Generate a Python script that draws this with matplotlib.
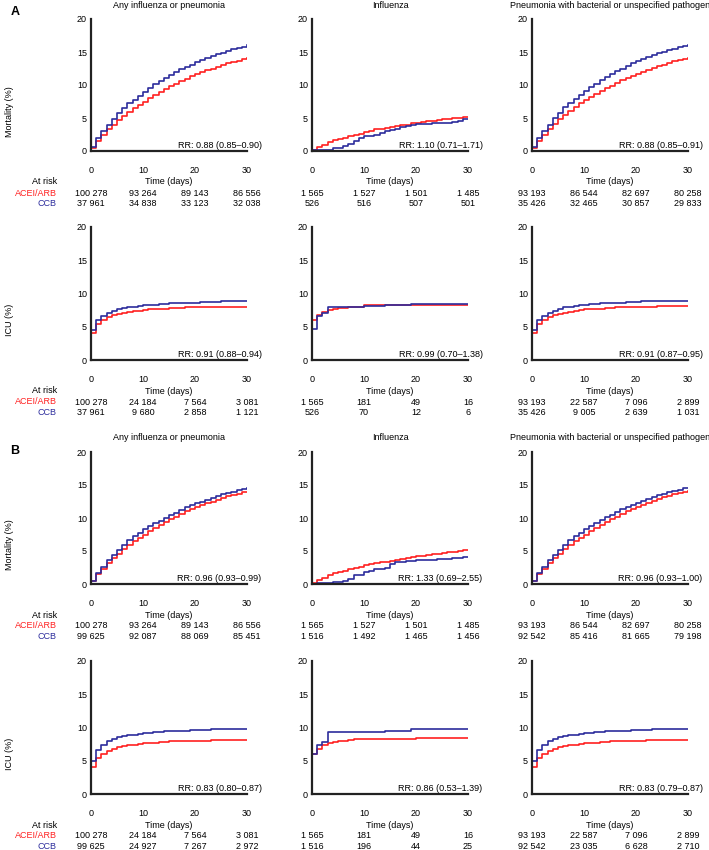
import numpy as np
import matplotlib
matplotlib.use('Agg')
import matplotlib.pyplot as plt

plt.rcParams['font.family'] = ['Liberation Sans', 'DejaVu Sans']

RED = '#ff2020'
BLUE = '#2c2c9c'

days = np.arange(31)

titles = ['Any influenza or pneumonia', 'Influenza',
          'Pneumonia with bacterial or unspecified pathogen']

# ---- A: mortality ----
a_mort_red = [
    [0.5, 1.5, 2.5, 3.3, 4.0, 4.7, 5.3, 5.9, 6.5, 7.0, 7.5, 8.0, 8.5, 8.9, 9.4, 9.8,
     10.2, 10.6, 10.9, 11.3, 11.6, 11.9, 12.2, 12.5, 12.8, 13.0, 13.3, 13.5, 13.7, 13.9, 14.1],
    [0.2, 0.6, 0.9, 1.3, 1.7, 1.8, 2.0, 2.2, 2.5, 2.6, 2.9, 3.1, 3.3, 3.4, 3.5, 3.6,
     3.8, 3.9, 4.0, 4.2, 4.3, 4.4, 4.5, 4.6, 4.7, 4.8, 4.9, 5.0, 5.0, 5.1, 5.2],
    [0.5, 1.5, 2.5, 3.3, 4.1, 4.8, 5.4, 6.0, 6.6, 7.2, 7.7, 8.2, 8.7, 9.1, 9.5, 9.9,
     10.3, 10.7, 11.0, 11.4, 11.7, 12.0, 12.3, 12.6, 12.9, 13.1, 13.4, 13.6, 13.8, 14.0, 14.1],
]
a_mort_blue = [
    [0.6, 2.0, 3.0, 4.0, 4.9, 5.8, 6.5, 7.2, 7.8, 8.4, 9.0, 9.6, 10.1, 10.6, 11.1, 11.5,
     12.0, 12.4, 12.8, 13.1, 13.5, 13.8, 14.1, 14.4, 14.7, 14.9, 15.2, 15.4, 15.6, 15.8, 16.0],
    [0.1, 0.1, 0.1, 0.2, 0.4, 0.5, 0.7, 1.1, 1.5, 1.9, 2.2, 2.3, 2.5, 2.7, 3.0, 3.2,
     3.4, 3.6, 3.8, 3.9, 4.1, 4.1, 4.1, 4.2, 4.2, 4.2, 4.3, 4.4, 4.6, 4.8, 4.9],
    [0.6, 2.0, 3.0, 4.0, 5.0, 5.8, 6.6, 7.3, 7.9, 8.5, 9.1, 9.7, 10.2, 10.7, 11.2, 11.6,
     12.1, 12.5, 12.9, 13.3, 13.6, 13.9, 14.2, 14.5, 14.8, 15.0, 15.3, 15.5, 15.7, 15.9, 16.1],
]

# ---- A: ICU ----
a_icu_red = [
    [4.1, 5.4, 6.0, 6.4, 6.7, 6.9, 7.1, 7.2, 7.3, 7.4, 7.5, 7.6, 7.6, 7.7, 7.7, 7.8,
     7.8, 7.8, 7.9, 7.9, 7.9, 7.9, 8.0, 8.0, 8.0, 8.0, 8.0, 8.0, 8.0, 8.0, 8.0],
    [6.0, 6.8, 7.2, 7.5, 7.7, 7.8, 7.8, 7.9, 8.0, 8.0, 8.2, 8.2, 8.2, 8.2, 8.2, 8.2,
     8.3, 8.3, 8.3, 8.3, 8.3, 8.3, 8.3, 8.3, 8.3, 8.3, 8.3, 8.3, 8.3, 8.3, 8.3],
    [4.1, 5.4, 6.0, 6.4, 6.7, 6.9, 7.1, 7.2, 7.4, 7.5, 7.6, 7.6, 7.7, 7.7, 7.8, 7.8,
     7.9, 7.9, 7.9, 8.0, 8.0, 8.0, 8.0, 8.0, 8.1, 8.1, 8.1, 8.1, 8.1, 8.1, 8.1],
]
a_icu_blue = [
    [4.5, 6.0, 6.6, 7.1, 7.4, 7.6, 7.8, 7.9, 8.0, 8.1, 8.2, 8.3, 8.3, 8.4, 8.4, 8.5,
     8.5, 8.5, 8.6, 8.6, 8.6, 8.7, 8.7, 8.7, 8.7, 8.8, 8.8, 8.8, 8.8, 8.8, 8.8],
    [4.6, 6.6, 7.1, 7.9, 7.9, 7.9, 7.9, 8.0, 8.0, 8.0, 8.1, 8.1, 8.1, 8.1, 8.2, 8.2,
     8.2, 8.2, 8.2, 8.4, 8.4, 8.4, 8.4, 8.4, 8.4, 8.4, 8.4, 8.4, 8.4, 8.4, 8.4],
    [4.5, 6.0, 6.6, 7.1, 7.4, 7.7, 7.9, 8.0, 8.1, 8.2, 8.3, 8.4, 8.4, 8.5, 8.5, 8.6,
     8.6, 8.6, 8.7, 8.7, 8.7, 8.8, 8.8, 8.8, 8.8, 8.9, 8.9, 8.9, 8.9, 8.9, 8.9],
]

# ---- B: mortality ----
b_mort_red = [
    [0.4, 1.5, 2.3, 3.2, 3.9, 4.6, 5.3, 5.9, 6.5, 7.0, 7.5, 8.0, 8.5, 9.0, 9.4, 9.8,
     10.2, 10.6, 11.0, 11.3, 11.6, 12.0, 12.3, 12.5, 12.8, 13.1, 13.3, 13.5, 13.7, 13.9, 14.0],
    [0.2, 0.6, 0.9, 1.3, 1.6, 1.8, 2.0, 2.2, 2.4, 2.6, 2.9, 3.1, 3.2, 3.3, 3.4, 3.5,
     3.7, 3.8, 3.9, 4.1, 4.2, 4.3, 4.4, 4.5, 4.6, 4.7, 4.8, 4.9, 5.0, 5.1, 5.2],
    [0.4, 1.5, 2.3, 3.2, 3.9, 4.6, 5.3, 5.9, 6.5, 7.0, 7.5, 8.0, 8.5, 9.0, 9.4, 9.8,
     10.2, 10.6, 11.0, 11.3, 11.6, 12.0, 12.3, 12.6, 12.9, 13.2, 13.4, 13.6, 13.8, 14.0, 14.1],
]
b_mort_blue = [
    [0.5, 1.7, 2.6, 3.6, 4.4, 5.2, 5.9, 6.6, 7.2, 7.8, 8.3, 8.8, 9.2, 9.6, 10.0, 10.4,
     10.8, 11.2, 11.6, 11.9, 12.2, 12.5, 12.8, 13.1, 13.4, 13.6, 13.8, 14.0, 14.2, 14.4, 14.5],
    [0.0, 0.1, 0.1, 0.2, 0.3, 0.3, 0.4, 0.8, 1.3, 1.3, 1.8, 2.0, 2.2, 2.2, 2.4, 3.1,
     3.3, 3.4, 3.5, 3.5, 3.7, 3.7, 3.7, 3.7, 3.8, 3.8, 3.8, 3.9, 4.0, 4.1, 4.1],
    [0.5, 1.7, 2.6, 3.6, 4.4, 5.2, 5.9, 6.6, 7.2, 7.8, 8.3, 8.8, 9.3, 9.7, 10.1, 10.5,
     10.9, 11.3, 11.7, 12.0, 12.3, 12.6, 12.9, 13.2, 13.5, 13.7, 13.9, 14.1, 14.3, 14.5, 14.6],
]

# ---- B: ICU ----
b_icu_red = [
    [4.1, 5.4, 6.0, 6.5, 6.8, 7.0, 7.2, 7.3, 7.4, 7.5, 7.6, 7.7, 7.7, 7.8, 7.8, 7.9,
     7.9, 7.9, 8.0, 8.0, 8.0, 8.0, 8.0, 8.1, 8.1, 8.1, 8.1, 8.1, 8.1, 8.1, 8.1],
    [6.0, 6.8, 7.3, 7.6, 7.8, 7.9, 8.0, 8.1, 8.2, 8.2, 8.3, 8.3, 8.3, 8.3, 8.3, 8.3,
     8.3, 8.3, 8.3, 8.3, 8.4, 8.4, 8.4, 8.4, 8.4, 8.4, 8.4, 8.4, 8.4, 8.4, 8.4],
    [4.1, 5.4, 6.0, 6.5, 6.8, 7.0, 7.2, 7.3, 7.4, 7.5, 7.6, 7.7, 7.7, 7.8, 7.8, 7.9,
     7.9, 7.9, 8.0, 8.0, 8.0, 8.0, 8.1, 8.1, 8.1, 8.1, 8.1, 8.1, 8.1, 8.1, 8.1],
]
b_icu_blue = [
    [5.0, 6.6, 7.3, 7.9, 8.2, 8.5, 8.7, 8.8, 8.9, 9.0, 9.1, 9.2, 9.3, 9.3, 9.4, 9.4,
     9.5, 9.5, 9.5, 9.6, 9.6, 9.6, 9.6, 9.7, 9.7, 9.7, 9.7, 9.7, 9.7, 9.7, 9.7],
    [6.0, 7.4, 7.8, 9.3, 9.3, 9.3, 9.3, 9.3, 9.3, 9.3, 9.3, 9.3, 9.3, 9.3, 9.5, 9.5,
     9.5, 9.5, 9.5, 9.7, 9.7, 9.7, 9.7, 9.7, 9.7, 9.7, 9.7, 9.7, 9.7, 9.7, 9.7],
    [5.0, 6.6, 7.3, 7.9, 8.2, 8.5, 8.7, 8.8, 8.9, 9.0, 9.1, 9.2, 9.3, 9.3, 9.4, 9.4,
     9.5, 9.5, 9.5, 9.6, 9.6, 9.6, 9.6, 9.7, 9.7, 9.7, 9.7, 9.7, 9.7, 9.7, 9.7],
]

rr_a_mort = ['RR: 0.88 (0.85\u20130.90)', 'RR: 1.10 (0.71\u20131.71)', 'RR: 0.88 (0.85\u20130.91)']
rr_a_icu = ['RR: 0.91 (0.88\u20130.94)', 'RR: 0.99 (0.70\u20131.38)', 'RR: 0.91 (0.87\u20130.95)']
rr_b_mort = ['RR: 0.96 (0.93\u20130.99)', 'RR: 1.33 (0.69\u20132.55)', 'RR: 0.96 (0.93\u20131.00)']
rr_b_icu = ['RR: 0.83 (0.80\u20130.87)', 'RR: 0.86 (0.53\u20131.39)', 'RR: 0.83 (0.79\u20130.87)']

# at-risk numbers (days 0, 10, 20, 30)
risk_acei_mort = [['100 278', '93 264', '89 143', '86 556'],
                  ['1 565', '1 527', '1 501', '1 485'],
                  ['93 193', '86 544', '82 697', '80 258']]
risk_acei_icu = [['100 278', '24 184', '7 564', '3 081'],
                 ['1 565', '181', '49', '16'],
                 ['93 193', '22 587', '7 096', '2 899']]
risk_ccb_a_mort = [['37 961', '34 838', '33 123', '32 038'],
                   ['526', '516', '507', '501'],
                   ['35 426', '32 465', '30 857', '29 833']]
risk_ccb_a_icu = [['37 961', '9 680', '2 858', '1 121'],
                  ['526', '70', '12', '6'],
                  ['35 426', '9 005', '2 639', '1 031']]
risk_ccb_b_mort = [['99 625', '92 087', '88 069', '85 451'],
                   ['1 516', '1 492', '1 465', '1 456'],
                   ['92 542', '85 416', '81 665', '79 198']]
risk_ccb_b_icu = [['99 625', '24 927', '7 267', '2 972'],
                  ['1 516', '196', '44', '25'],
                  ['92 542', '23 035', '6 628', '2 710']]

rows = [
    ('Mortality (%)', a_mort_red, a_mort_blue, rr_a_mort, risk_acei_mort, risk_ccb_a_mort, True),
    ('ICU (%)', a_icu_red, a_icu_blue, rr_a_icu, risk_acei_icu, risk_ccb_a_icu, False),
    ('Mortality (%)', b_mort_red, b_mort_blue, rr_b_mort, risk_acei_mort, risk_ccb_b_mort, True),
    ('ICU (%)', b_icu_red, b_icu_blue, rr_b_icu, risk_acei_icu, risk_ccb_b_icu, False),
]

W, H = 709, 850
fig = plt.figure(figsize=(W / 100, H / 100), dpi=100)

col_left = [91, 312, 532]
col_w = 156
row_top = [19, 227, 452, 661]
row_bot = [151, 360, 584, 794]

FS = 6.5
PT = 0.72  # points per pixel at 100 dpi
risk_ticks = [0, 10, 20, 30]

for r, (ylab, reds, blues, rrs, acei, ccb, show_title) in enumerate(rows):
    for c in range(3):
        ax = fig.add_axes([col_left[c] / W, 1 - row_bot[r] / H,
                           col_w / W, (row_bot[r] - row_top[r]) / H])
        ax.step(np.r_[0, days], np.r_[0, reds[c]], where='post', color=RED, lw=1.2)
        ax.step(np.r_[0, days], np.r_[0, blues[c]], where='post', color=BLUE, lw=1.2)
        ax.set_xlim(0, 30)
        ax.set_ylim(0, 20)
        ax.set_xticks([0, 10, 20, 30])
        ax.set_yticks([0, 5, 10, 15, 20])
        ax.tick_params(axis='x', length=0, pad=10.5, labelsize=FS)
        ax.tick_params(axis='y', length=0, pad=3, labelsize=FS)
        for s in ['top', 'right']:
            ax.spines[s].set_visible(False)
        for s in ['left', 'bottom']:
            ax.spines[s].set_linewidth(1.6)
            ax.spines[s].set_color('#222222')
        ax.annotate(rrs[c], xy=(32.8, 0), xycoords='data', xytext=(0, 0.5),
                    textcoords='offset points', ha='right', va='bottom', fontsize=FS,
                    annotation_clip=False)
        if show_title:
            ax.annotate(titles[c], xy=(0.5, 1), xycoords='axes fraction',
                        xytext=(0, 14 * PT), textcoords='offset points',
                        ha='center', va='center', fontsize=FS)
        ax.annotate('Time (days)', xy=(0.5, 0), xycoords='axes fraction',
                    xytext=(0, -31 * PT), textcoords='offset points',
                    ha='center', va='center', fontsize=FS)
        for k, t in enumerate(risk_ticks):
            ax.annotate(acei[c][k], xy=(t, 0), xycoords=('data', 'axes fraction'),
                        xytext=(0, -42 * PT), textcoords='offset points',
                        ha='center', va='center', fontsize=FS, annotation_clip=False)
            ax.annotate(ccb[c][k], xy=(t, 0), xycoords=('data', 'axes fraction'),
                        xytext=(0, -52.5 * PT), textcoords='offset points',
                        ha='center', va='center', fontsize=FS, annotation_clip=False)
        if c == 0:
            y0 = row_bot[r]
            fig.text(57 / W, 1 - (y0 + 31) / H, 'At risk', ha='right', va='center', fontsize=FS)
            fig.text(57 / W, 1 - (y0 + 42) / H, 'ACEI/ARB', ha='right', va='center',
                     fontsize=FS, color=RED)
            fig.text(57 / W, 1 - (y0 + 52.5) / H, 'CCB', ha='right', va='center',
                     fontsize=FS, color=BLUE)
            yc = (row_top[r] + y0 + 53) / 2
            fig.text(10 / W, 1 - yc / H, ylab, rotation=90, ha='center', va='center',
                     fontsize=FS)

fig.text(15 / W, 1 - 12 / H, 'A', fontsize=9, fontweight='bold', ha='center', va='center')
fig.text(15 / W, 1 - 451 / H, 'B', fontsize=9, fontweight='bold', ha='center', va='center')

fig.savefig('out.png', dpi=100)
